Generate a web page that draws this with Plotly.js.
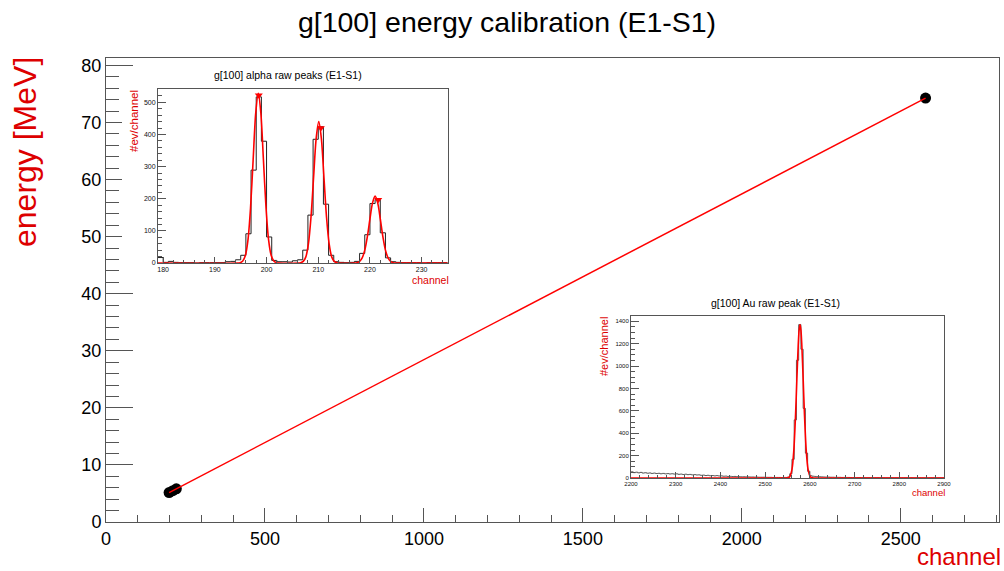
<!DOCTYPE html>
<html>
<head>
<meta charset="utf-8">
<script src="https://cdn.plot.ly/plotly-3.0.1.min.js"></script>
<style>
  html, body { margin: 0; padding: 0; background: #fff; }
  #chart { width: 1004px; height: 571px; }
</style>
</head>
<body>
<div id="chart"></div>
<script>
// ---------- data ----------
// main calibration graph
var calChannel = [198.5, 210.3, 221.2, 2578];
var calEnergy  = [5.157, 5.486, 5.805, 74.28];
var fitLineChannel = [198.5, 2578];
var fitLineEnergy  = [5.16, 74.28];

// inset 1: alpha raw peaks histogram (1-channel bins starting at 179)
var alphaBinLow = 179;
var alphaBinWidth = 1;
var alphaCounts = [17, 2, 5, 2, 1, 1, 1, 0, 1, 1, 1, 1, 1,
  4, 5, 10, 24, 91, 289, 517, 379, 81, 8,
  4, 4, 3, 7, 10, 40, 149, 385, 424, 183,
  24, 4, 2, 1, 2, 5, 30, 88, 185, 197,
  94, 16, 4, 2, 1, 1, 1, 1, 0, 1,
  1, 1, 1];
// fit curve samples
var alphaFitX = [179, 194.4, 194.9, 195.4, 195.9, 196.4, 196.9, 197.4, 197.9, 198.4, 198.9, 199.4, 199.9, 200.4, 200.9, 201.4, 201.9, 202.4,
  206.1, 206.6, 207.1, 207.6, 208.1, 208.6, 209.1, 209.6, 210.1, 210.6, 211.1, 211.6, 212.1, 212.6, 213.1, 213.6, 214.1,
  217.0, 217.5, 218.0, 218.5, 219.0, 219.5, 220.0, 220.5, 221.0, 221.5, 222.0, 222.5, 223.0, 223.5, 224.0, 224.5, 225.0, 235];
var alphaFitY = [0, 0, 1, 6, 23, 71, 171, 320, 466, 528, 466, 320, 171, 71, 23, 6, 1, 0,
  0, 1, 5, 19, 60, 143, 267, 388, 440, 388, 267, 143, 60, 19, 5, 1, 0,
  0, 1, 5, 16, 40, 82, 137, 187, 208, 187, 137, 82, 40, 16, 5, 1, 0, 0];
// peak markers
var alphaPeakX = [198.5, 210.5, 221.6];
var alphaPeakY = [522, 420, 197];

// inset 2: Au raw peak histogram (5-channel bins starting at 2200)
var auBinLow = 2200;
var auBinWidth = 5;
var auCounts = [55, 48, 52, 46, 50, 44, 47, 43, 45, 41,
  44, 40, 42, 38, 41, 37, 39, 36, 38, 35,
  37, 33, 35, 31, 34, 30, 32, 28, 30, 27,
  28, 24, 26, 22, 24, 20, 22, 19, 21, 18,
  19, 16, 17, 14, 15, 13, 14, 12, 12, 11,
  11, 10, 10, 9, 9, 8, 8, 7, 7, 7,
  6, 6, 6, 5, 5, 5, 5, 4, 5, 5,
  9, 38, 167, 519, 1052, 1370, 1150, 622, 222, 60, 20, 16,
  14, 12, 11, 10, 9, 8, 8, 7, 7, 6, 6, 6, 5, 5, 5, 5, 4, 4,
  4, 4, 4, 3, 4, 3, 3, 3, 3, 3, 3, 2, 3, 2, 2, 2, 3, 2, 2, 2,
  2, 2, 2, 2, 1, 2, 1, 1, 2, 1, 1, 1, 1, 1, 1, 1, 1, 1, 1, 1];
var auFitX = [2200, 2545, 2550, 2555, 2560, 2564, 2568, 2571, 2574, 2576, 2578, 2580, 2582, 2585, 2588, 2592, 2596, 2601, 2606, 2611, 2900];
var auFitY = [0, 0, 1, 12, 77, 240, 563, 886, 1188, 1322, 1370, 1322, 1188, 886, 563, 240, 77, 12, 1, 0, 0];

// ---------- helpers (layout only) ----------
function stepsFrom(low, width, counts) {
  var xs = [], ys = [];
  for (var i = 0; i < counts.length; i++) { xs.push(low + i * width); ys.push(counts[i]); }
  xs.push(low + counts.length * width); ys.push(counts[counts.length - 1]);
  return {x: xs, y: ys};
}
var PL = 106, PR = 999, PT = 58, PB = 522;
function fx(px) { return (px - PL) / (PR - PL); }
function fy(py) { return (PB - py) / (PB - PT); }

var FONT = 'Liberation Sans, Arial, Helvetica, sans-serif';
var RED = '#dd0000';
var LINE = '#555';

var alphaSteps = stepsFrom(alphaBinLow, alphaBinWidth, alphaCounts);
var auSteps = stepsFrom(auBinLow, auBinWidth, auCounts);

var traces = [
  // main graph markers
  {x: calChannel, y: calEnergy, mode: 'markers', type: 'scatter',
   marker: {color: '#000', size: 11, symbol: 'circle'}, xaxis: 'x', yaxis: 'y', hoverinfo: 'skip'},
  // fit line
  {x: fitLineChannel, y: fitLineEnergy, mode: 'lines', type: 'scatter',
   line: {color: '#ff0000', width: 1.5}, xaxis: 'x', yaxis: 'y', hoverinfo: 'skip'},
  // inset-1 pad (white background only)
  {x: [0], y: [0], mode: 'markers', marker: {opacity: 0}, xaxis: 'x2', yaxis: 'y2', hoverinfo: 'skip'},
  // inset 1 histogram
  {x: alphaSteps.x, y: alphaSteps.y, mode: 'lines', type: 'scatter', line: {shape: 'hv', color: '#222', width: 1},
   xaxis: 'x3', yaxis: 'y3', hoverinfo: 'skip'},
  {x: alphaFitX, y: alphaFitY, mode: 'lines', type: 'scatter', line: {shape: 'spline', smoothing: 0.8, color: '#ff0000', width: 1.6},
   xaxis: 'x3', yaxis: 'y3', hoverinfo: 'skip', cliponaxis: true},
  {x: alphaPeakX, y: alphaPeakY, mode: 'markers', type: 'scatter', marker: {symbol: 'triangle-down', color: '#ff0000', size: 7},
   xaxis: 'x3', yaxis: 'y3', hoverinfo: 'skip'},
  // inset 2 histogram
  {x: auSteps.x, y: auSteps.y, mode: 'lines', type: 'scatter', line: {shape: 'hv', color: '#333', width: 0.8},
   xaxis: 'x4', yaxis: 'y4', hoverinfo: 'skip'},
  {x: auFitX, y: auFitY, mode: 'lines', type: 'scatter', line: {shape: 'spline', smoothing: 0.8, color: '#ff0000', width: 1.6},
   xaxis: 'x4', yaxis: 'y4', hoverinfo: 'skip'}
];

function axisBase(extra) {
  var a = {showgrid: false, zeroline: false, showline: true, mirror: true, linecolor: LINE, linewidth: 1,
           ticks: 'inside', tickcolor: LINE, tickwidth: 1, fixedrange: true};
  for (var k in extra) a[k] = extra[k];
  return a;
}

var layout = {
  width: 1004, height: 571,
  paper_bgcolor: '#fff', plot_bgcolor: '#fff',
  showlegend: false,
  margin: {l: PL, r: 1004 - PR, t: PT, b: 571 - PB, pad: 0},
  font: {family: FONT, color: '#000'},
  title: {text: 'g[100] energy calibration (E1-S1)', x: 507 / 1004, xanchor: 'center', y: 1 - 22 / 571, yanchor: 'middle',
          font: {family: FONT, size: 28.5, color: '#000'}},
  xaxis: axisBase({domain: [0, 1], range: [0, 2809], anchor: 'y', dtick: 500, tick0: 0, ticklen: 14,
    tickfont: {size: 18, color: '#000'}, minor: {dtick: 100, tick0: 0, ticklen: 7, ticks: 'inside', tickcolor: LINE}}),
  yaxis: axisBase({domain: [0, 1], range: [0, 81.3], anchor: 'x', dtick: 10, tick0: 0, ticklen: 27,
    tickfont: {size: 18, color: '#000'}, minor: {dtick: 2, tick0: 0, ticklen: 13, ticks: 'inside', tickcolor: LINE}}),
  // inset-1 pad
  xaxis2: {domain: [fx(122), fx(458)], range: [0, 1], anchor: 'y2', visible: false, fixedrange: true},
  yaxis2: {domain: [fy(288), fy(68)], range: [0, 1], anchor: 'x2', visible: false, fixedrange: true},
  // inset 1 axes
  xaxis3: axisBase({domain: [fx(158), fx(448)], range: [179, 235.1], anchor: 'y3', dtick: 10, tick0: 180, ticklen: 6,
    tickfont: {size: 7, color: '#111'}, minor: {dtick: 2, tick0: 180, ticklen: 3, ticks: 'inside', tickcolor: LINE}}),
  yaxis3: axisBase({domain: [fy(263), fy(89)], range: [0, 541.5], anchor: 'x3', dtick: 100, tick0: 0, ticklen: 8,
    tickfont: {size: 7, color: '#111'}, minor: {dtick: 20, tick0: 0, ticklen: 4, ticks: 'inside', tickcolor: LINE}}),
  // inset 2 axes
  xaxis4: axisBase({domain: [fx(631), fx(944)], range: [2200, 2900], anchor: 'y4', dtick: 100, tick0: 2200, ticklen: 6,
    tickfont: {size: 6, color: '#111'}, minor: {dtick: 20, tick0: 2200, ticklen: 3, ticks: 'inside', tickcolor: LINE}}),
  yaxis4: axisBase({domain: [fy(478), fy(316)], range: [0, 1447], anchor: 'x4', dtick: 200, tick0: 0, ticklen: 8,
    tickfont: {size: 6, color: '#111'}, minor: {dtick: 50, tick0: 0, ticklen: 4, ticks: 'inside', tickcolor: LINE}}),
  annotations: [
    {text: 'energy [MeV]', xref: 'paper', yref: 'paper', x: fx(25), y: fy(152), xanchor: 'center', yanchor: 'middle',
     textangle: -90, showarrow: false, font: {family: FONT, size: 32, color: RED}},
    {text: 'channel', xref: 'paper', yref: 'paper', x: fx(1002), y: fy(556), xanchor: 'right', yanchor: 'middle',
     showarrow: false, borderpad: 0, font: {family: FONT, size: 24, color: RED}},
    {text: 'g[100] alpha raw peaks (E1-S1)', xref: 'paper', yref: 'paper', x: fx(288), y: fy(75), xanchor: 'center', yanchor: 'middle',
     showarrow: false, font: {family: FONT, size: 10.5, color: '#000'}},
    {text: '#ev/channel', xref: 'paper', yref: 'paper', x: fx(134), y: fy(121), xanchor: 'center', yanchor: 'middle',
     textangle: -90, showarrow: false, font: {family: FONT, size: 11.5, color: RED}},
    {text: 'channel', xref: 'paper', yref: 'paper', x: fx(430.5), y: fy(280), xanchor: 'center', yanchor: 'middle',
     showarrow: false, font: {family: FONT, size: 10.5, color: RED}},
    {text: 'g[100] Au raw peak (E1-S1)', xref: 'paper', yref: 'paper', x: fx(775), y: fy(303), xanchor: 'center', yanchor: 'middle',
     showarrow: false, font: {family: FONT, size: 10.5, color: '#000'}},
    {text: '#ev/channel', xref: 'paper', yref: 'paper', x: fx(604), y: fy(347), xanchor: 'center', yanchor: 'middle',
     textangle: -90, showarrow: false, font: {family: FONT, size: 11, color: RED}},
    {text: 'channel', xref: 'paper', yref: 'paper', x: fx(928.5), y: fy(492), xanchor: 'center', yanchor: 'middle',
     showarrow: false, font: {family: FONT, size: 9.5, color: RED}}
  ]
};

Plotly.newPlot('chart', traces, layout, {staticPlot: true, displayModeBar: false});
</script>
</body>
</html>
